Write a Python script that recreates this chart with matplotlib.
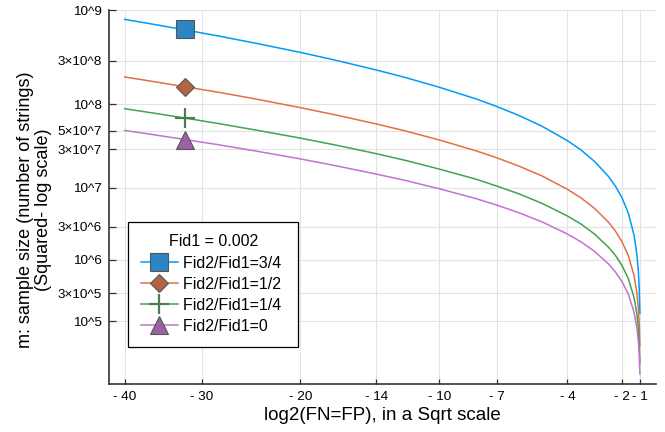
"""
Sample size m vs log2(FN=FP) for Fid1 = 0.002.
x axis: squared-log of |x| (labelled "Sqrt scale"), y axis: squared-log.
"""

import numpy as np
import matplotlib

matplotlib.use("Agg")
import matplotlib.pyplot as plt
from matplotlib.lines import Line2D
from matplotlib.ticker import NullLocator

plt.rcParams["font.family"] = ["Liberation Sans", "DejaVu Sans"]

# ---- data ----
log2_fnfp = [-40, -36, -32, -28, -24, -20, -17, -14, -12, -10, -8, -7, -6, -5,
             -4, -3.5, -3, -2.5, -2.25, -2, -1.75, -1.5, -1.35, -1.25, -1.18, -1.11]

m_34 = [8.05e8, 7.17e8, 6.29e8, 5.42e8, 4.54e8, 3.68e8, 3.03e8, 2.39e8, 1.97e8,
        1.55e8, 1.15e8, 9.47e7, 7.52e7, 5.62e7, 3.81e7, 2.96e7, 2.14e7, 1.39e7,
        1.05e7, 7.37e6, 4.59e6, 2.29e6, 1.21e6, 6.53e5, 3.52e5, 1.37e5]
m_12 = [2.01e8, 1.79e8, 1.57e8, 1.36e8, 1.14e8, 9.2e7, 7.58e7, 5.98e7, 4.93e7,
        3.88e7, 2.87e7, 2.37e7, 1.88e7, 1.41e7, 9.53e6, 7.4e6, 5.35e6, 3.48e6,
        2.63e6, 1.84e6, 1.15e6, 5.73e5, 3.03e5, 1.63e5, 8.8e4, 3.43e4]
m_14 = [8.94e7, 7.97e7, 6.99e7, 6.02e7, 5.04e7, 4.09e7, 3.37e7, 2.66e7, 2.19e7,
        1.72e7, 1.28e7, 1.05e7, 8.36e6, 6.24e6, 4.23e6, 3.29e6, 2.38e6, 1.54e6,
        1.17e6, 8.19e5, 5.1e5, 2.54e5, 1.34e5, 7.26e4, 3.91e4, 1.52e4]
m_0 = [5.03e7, 4.48e7, 3.93e7, 3.39e7, 2.84e7, 2.3e7, 1.89e7, 1.49e7, 1.23e7,
       9.69e6, 7.19e6, 5.92e6, 4.7e6, 3.51e6, 2.38e6, 1.85e6, 1.34e6, 8.69e5,
       6.56e5, 4.61e5, 2.87e5, 1.43e5, 7.56e4, 4.08e4, 2.2e4, 8.56e3]

marker_x = -32
marker_y = [6.38e8, 1.56e8, 7.0e7, 3.88e7]

labels = ["Fid2/Fid1=3/4", "Fid2/Fid1=1/2", "Fid2/Fid1=1/4", "Fid2/Fid1=0"]

xtick_vals = [-40, -30, -20, -14, -10, -7, -4, -2, -1]
xtick_labels = ["- 40", "- 30", "- 20", "- 14", "- 10", "- 7", "- 4", "- 2", "- 1"]
ytick_vals = [1e5, 3e5, 1e6, 3e6, 1e7, 3e7, 5e7, 1e8, 3e8, 1e9]
ytick_labels = ["10^5", "3×10^5", "10^6", "3×10^6", "10^7", "3×10^7",
                "5×10^7", "10^8", "3×10^8", "10^9"]

line_colors = ["#009AFA", "#E36F47", "#3EA44E", "#C371D2"]
marker_faces = ["#2c86c4", "#b2633f", "#4b7f52", "#9c63a4"]
marker_styles = ["s", "D", "+", "^"]
marker_sizes = [13.5, 9.2, 13.7, 13.0]


# ---- scales ----
def xfwd(x):
    lg = np.log10(np.maximum(-np.asarray(x, dtype=float), 1e-300))
    return -np.sign(lg) * lg ** 2


def xinv(p):
    p = np.asarray(p, dtype=float)
    return -(10.0 ** (-np.sign(p) * np.sqrt(np.abs(p))))


def yfwd(y):
    lg = np.log10(np.maximum(np.asarray(y, dtype=float), 1.0))
    return lg ** 2


def yinv(p):
    return 10.0 ** np.sqrt(np.maximum(np.asarray(p, dtype=float), 0.0))


fig = plt.figure(figsize=(6.65, 4.32), dpi=100)
ax = fig.add_axes([0.1644, 0.1104, 0.8221, 0.8676])
ax.set_xscale("function", functions=(xfwd, xinv))
ax.set_yscale("function", functions=(yfwd, yinv))

series = [m_34, m_12, m_14, m_0]
for vals, col in zip(series, line_colors):
    ax.plot(log2_fnfp, vals, color=col, lw=1.1, zorder=3)

for yv, face, mk, ms in zip(marker_y, marker_faces, marker_styles, marker_sizes):
    if mk == "+":
        ax.plot([marker_x], [yv], marker=mk, ms=ms, mew=1.6, color=face,
                linestyle="none", zorder=4)
    else:
        ax.plot([marker_x], [yv], marker=mk, ms=ms, mfc=face, mec="#555555",
                mew=0.8, linestyle="none", zorder=4)

ax.set_xlim(-42.24, -0.525)
ax.set_ylim(4877, 1.0116e9)

ax.set_xticks(xtick_vals)
ax.set_xticklabels(xtick_labels)
ax.set_yticks(ytick_vals)
ax.set_yticklabels(ytick_labels)
ax.xaxis.set_minor_locator(NullLocator())
ax.yaxis.set_minor_locator(NullLocator())

ax.grid(True, color="#e3e3e3", lw=0.8, zorder=0)
ax.set_axisbelow(True)
for side in ("top", "right"):
    ax.spines[side].set_visible(False)
for side in ("left", "bottom"):
    ax.spines[side].set_color("#333333")
    ax.spines[side].set_linewidth(1.2)

ax.tick_params(axis="y", direction="in", length=5, width=0.9, color="#333333",
               labelsize=9.7, pad=5.5)
ax.tick_params(axis="x", direction="in", length=3.6, width=0.9, color="#333333",
               labelsize=9.7, pad=5)

ax.set_xlabel("log2(FN=FP), in a Sqrt scale", fontsize=13.5, labelpad=3)
ax.set_ylabel("m: sample size (number of strings)\n(Squared- log scale)",
              fontsize=13, labelpad=4, linespacing=1.05)
ax.yaxis.label.set_y(0.465)

handles = []
for lc, face, mk, ms in zip(line_colors, marker_faces, marker_styles, marker_sizes):
    if mk == "+":
        h = Line2D([], [], color=lc, lw=1.1, marker=mk, ms=ms, mew=1.6, mec=face)
    else:
        h = Line2D([], [], color=lc, lw=1.1, marker=mk, ms=ms, mfc=face,
                   mec="#555555", mew=0.8)
    handles.append(h)

leg = ax.legend(handles, [s + " " for s in labels], title="Fid1 = 0.002",
                loc="upper left",
                bbox_to_anchor=(128.3 / 665, 1 - 221.7 / 432),
                bbox_transform=fig.transFigure, fontsize=11.5,
                title_fontsize=11.5, frameon=True, fancybox=False,
                edgecolor="black", framealpha=1, borderaxespad=0,
                handlelength=2.3, handletextpad=0.3, labelspacing=0.38,
                borderpad=0.8, numpoints=1)
leg.get_frame().set_linewidth(0.9)

fig.savefig("out.png", dpi=100)
